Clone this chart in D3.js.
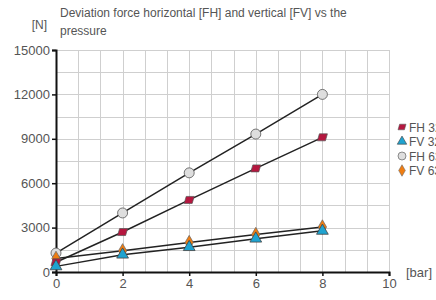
<!DOCTYPE html>
<html>
<head>
<meta charset="utf-8">
<script src="https://cdn.jsdelivr.net/npm/d3@7"></script>
<style>
  body { margin: 0; background: #fff; overflow: hidden; }
  svg { font-family: "Liberation Sans", Arial, sans-serif; }
</style>
</head>
<body>
<svg id="chart" width="436" height="300"></svg>
<script>
// data
var pressure = [0, 2, 4, 6, 8];
var seriesNames = ['FH 32', 'FV 32', 'FH 63', 'FV 63'];
var fh3 = [660, 2700, 4870, 7000, 9100];
var fv3 = [380, 1170, 1680, 2250, 2780];
var fh6 = [1280, 3990, 6700, 9320, 12000];
var fv6 = [920, 1430, 1990, 2530, 3040];
var xTicks = [0, 2, 4, 6, 8, 10];
var yTicks = [0, 3000, 6000, 9000, 12000, 15000];

var svg = d3.select('#chart');
var x = d3.scaleLinear().domain([0, 10]).range([56, 389]);
var y = d3.scaleLinear().domain([0, 15000]).range([272, 50]);

// grid
var grid = svg.append('g').attr('stroke', '#cfcfcf').attr('stroke-width', 1);
grid.selectAll('.vx').data(d3.range(1, 16).map(function(i) { return i * 10 / 15; }))
  .enter().append('line')
  .attr('x1', function(d) { return Math.round(x(d)) + 0.5; })
  .attr('x2', function(d) { return Math.round(x(d)) + 0.5; })
  .attr('y1', y(15000)).attr('y2', y(0));
grid.selectAll('.hy').data(d3.range(1, 11).map(function(i) { return i * 1500; }))
  .enter().append('line')
  .attr('y1', function(d) { return Math.round(y(d)) + 0.5; })
  .attr('y2', function(d) { return Math.round(y(d)) + 0.5; })
  .attr('x1', x(0)).attr('x2', x(10));

// axes
var xAxis = svg.append('g').attr('transform', 'translate(0,' + y(0) + ')')
  .call(d3.axisBottom(x).tickValues(xTicks).tickFormat(d3.format('d')).tickSize(4).tickPadding(3));
var yAxis = svg.append('g').attr('transform', 'translate(' + x(0) + ',0)')
  .call(d3.axisLeft(y).tickValues(yTicks).tickFormat(d3.format('d')).tickSize(4).tickPadding(2));
[xAxis, yAxis].forEach(function(a) {
  a.select('.domain').attr('stroke', '#111').attr('stroke-width', 2);
  a.selectAll('.tick line').attr('stroke', '#111').attr('stroke-width', 1.5);
  a.selectAll('text').attr('fill', '#555').style('font-size', '13px');
});

// titles
svg.append('text').attr('x', 47).attr('y', 29).attr('text-anchor', 'end')
  .attr('fill', '#555').style('font-size', '12px').text('[N]');
svg.append('text').attr('x', 60).attr('y', 17).attr('fill', '#555').style('font-size', '12px')
  .text('Deviation force horizontal [FH] and vertical [FV] vs the');
svg.append('text').attr('x', 60).attr('y', 35).attr('fill', '#555').style('font-size', '12px')
  .text('pressure');
svg.append('text').attr('x', 406).attr('y', 277).attr('fill', '#555').style('font-size', '13px')
  .text('[bar]');

// markers
function marker(g, type, fill) {
  if (type === 'para') {
    g.append('path').attr('d', 'M-3,-3.5 L5,-3.5 L3,3.5 L-5,3.5 Z')
      .attr('fill', fill).attr('stroke', '#555').attr('stroke-width', 0.7);
  } else if (type === 'tri') {
    g.append('path').attr('d', d3.symbol().type(d3.symbolTriangle).size(60)())
      .attr('fill', fill).attr('stroke', '#444').attr('stroke-width', 0.8);
  } else if (type === 'circle') {
    g.append('circle').attr('r', 5).attr('fill', fill).attr('stroke', '#555').attr('stroke-width', 0.8);
  } else {
    g.append('path').attr('d', d3.symbol().type(d3.symbolDiamond).size(60)())
      .attr('fill', fill).attr('stroke', '#666').attr('stroke-width', 0.7);
  }
}

var series = [
  { name: seriesNames[0], values: fh3, type: 'para', color: '#b5173f' },
  { name: seriesNames[1], values: fv3, type: 'tri', color: '#1fa3d0' },
  { name: seriesNames[2], values: fh6, type: 'circle', color: '#dedede' },
  { name: seriesNames[3], values: fv6, type: 'diamond', color: '#ef7d12' }
];

var line = d3.line()
  .x(function(d, i) { return x(pressure[i]); })
  .y(function(d) { return y(d); });

series.forEach(function(s) {
  svg.append('path').attr('d', line(s.values))
    .attr('fill', 'none').attr('stroke', '#222').attr('stroke-width', 1.5);
});
// draw order: circles/diamonds below, then parallelograms and triangles on top
[2, 3, 0, 1].forEach(function(k) {
  var s = series[k];
  s.values.forEach(function(v, i) {
    var g = svg.append('g').attr('transform', 'translate(' + x(pressure[i]) + ',' + y(v) + ')');
    marker(g, s.type, s.color);
  });
});

// legend (clipped by the right edge, as in the original)
series.forEach(function(s, i) {
  var g = svg.append('g').attr('transform', 'translate(402,' + (127 + i * 14.5) + ')');
  var m = g.append('g').attr('transform', 'scale(0.8)');
  marker(m, s.type, s.color);
  g.append('text').attr('x', 7).attr('y', 4.5).attr('fill', '#555')
    .style('font-size', '12px').text(s.name);
});
</script>
</body>
</html>
